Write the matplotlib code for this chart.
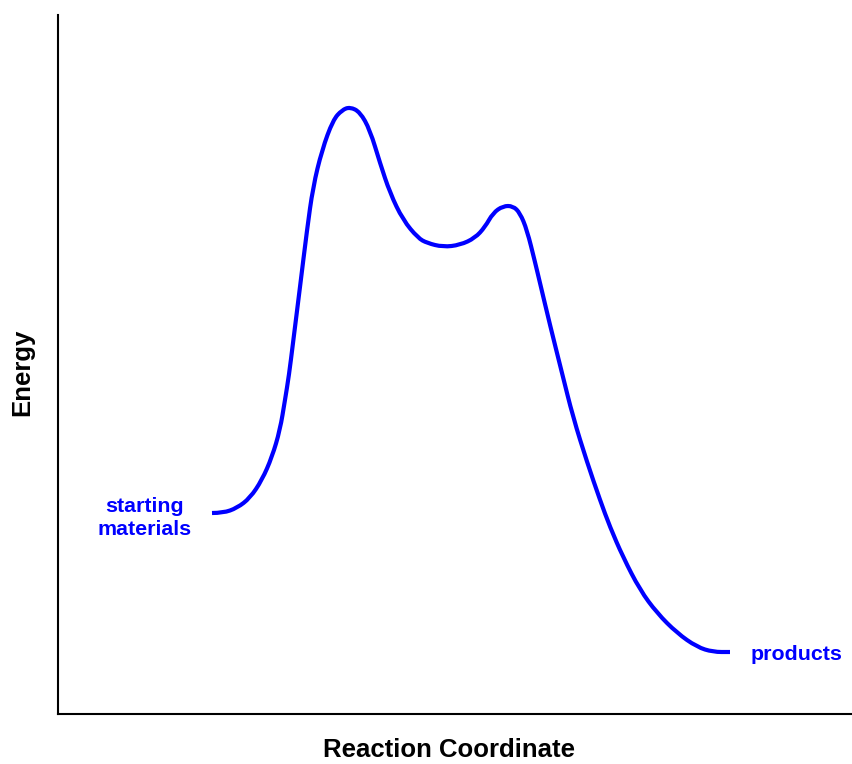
import matplotlib
matplotlib.use("Agg")
import matplotlib.pyplot as plt
from matplotlib.path import Path
from matplotlib.patches import PathPatch

plt.rcParams['font.family'] = ['Liberation Sans', 'DejaVu Sans']

# reaction coordinate (arbitrary units) and energy
coord = [212, 223, 237, 250, 262, 272, 280, 285, 289, 293, 300, 307, 313, 322,
         333, 342, 350, 360, 370, 380, 390, 403, 418, 427, 443, 460, 475, 485,
         493, 503, 513, 520, 527, 535, 540, 550, 562, 573, 587, 600, 610, 623,
         640, 657, 677, 697, 713, 730]
energy = [201, 201, 206, 216, 234, 257, 284, 314, 339, 371, 427, 484, 527, 564,
          594, 604, 607, 602, 584, 551, 521, 494, 476, 471, 467, 469, 476, 487,
          501, 508, 508, 501, 484, 452, 431, 389, 341, 297, 252, 214, 187, 157,
          124, 101, 81, 67, 62, 62]

labels = ["starting\nmaterials", "products"]
label_x = [145, 751]
label_y = [196, 59]

BLUE = "#0000FF"

fig = plt.figure(figsize=(8.52, 7.64), dpi=100)
ax = fig.add_axes([58 / 852, 50 / 764, 1 - 58 / 852, 699 / 764])

# smooth drawing: read points used as quadratic bezier control points
pts = list(zip(coord, energy))
verts = [pts[0]]
codes = [Path.MOVETO]
for i in range(1, len(pts) - 1):
    mid = ((pts[i][0] + pts[i + 1][0]) / 2, (pts[i][1] + pts[i + 1][1]) / 2)
    verts += [pts[i], mid]
    codes += [Path.CURVE3, Path.CURVE3]
verts.append(pts[-1])
codes.append(Path.LINETO)
ax.add_patch(PathPatch(Path(verts, codes), facecolor="none", edgecolor=BLUE,
                       lw=3.0, capstyle="butt", joinstyle="round"))
ax.set_xlim(58, 852)
ax.set_ylim(0, 699)

ax.text(label_x[0], label_y[0], labels[0], color=BLUE, fontsize=15.4,
        fontweight="bold", ha="center", va="center", linespacing=1.3)
ax.text(label_x[1], label_y[1], labels[1], color=BLUE, fontsize=15.4,
        fontweight="bold", ha="left", va="center")

for s in ["top", "right"]:
    ax.spines[s].set_visible(False)
for s in ["left", "bottom"]:
    ax.spines[s].set_linewidth(1.5)
ax.set_xticks([])
ax.set_yticks([])

fig.text(449 / 852, 1 - 750 / 764, "Reaction Coordinate", fontsize=18.5,
         fontweight="bold", ha="center", va="center")
fig.text(22 / 852, 1 - 372 / 764, "Energy", fontsize=18.5, fontweight="bold",
         ha="center", va="center", rotation=90)

fig.savefig("out.png", dpi=100)
